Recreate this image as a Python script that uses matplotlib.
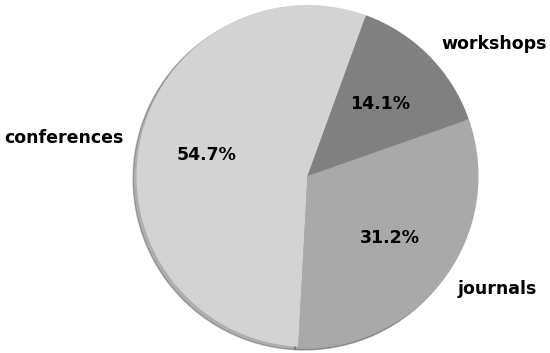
import matplotlib
matplotlib.use("Agg")
import matplotlib.pyplot as plt

labels = ["conferences", "journals", "workshops"]
counts = [35, 20, 9]
colors = ["#d3d3d3", "#a9a9a9", "#808080"]

fig = plt.figure(figsize=(5.5, 3.53), dpi=100)
ax = fig.add_axes([0, 0, 1, 1])
wedges, texts, autotexts = ax.pie(
    counts, labels=labels, colors=colors, autopct="%1.1f%%",
    startangle=70, shadow={"ox": -0.014, "oy": -0.012, "shade": 0.55},
    textprops=dict(fontsize=12.5, fontweight="bold", color="black"),
)
ax.set_aspect("auto")
r = 171.0
cx, cy = 307.5, 177.0
ax.set_xlim(-cx / r, (550 - cx) / r)
ax.set_ylim(-cy / r, (353 - cy) / r)
ax.axis("off")
fig.savefig("out.png", dpi=100)
